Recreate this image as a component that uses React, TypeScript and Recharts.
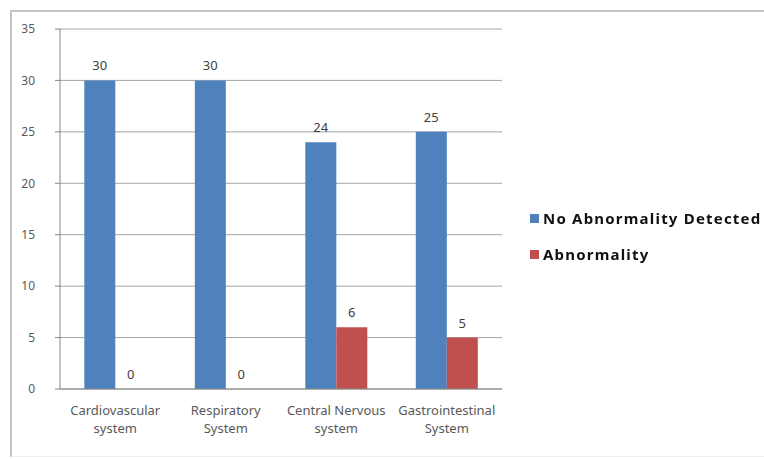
import React from "react";
import {
  Bar,
  BarChart,
  CartesianGrid,
  LabelList,
  Legend,
  XAxis,
  YAxis,
} from "recharts";

const systems = [
  "Cardiovascular system",
  "Respiratory System",
  "Central Nervous system",
  "Gastrointestinal System",
];
const noAbnormality = [30, 30, 24, 25];
const abnormality = [0, 0, 6, 5];
const yTicks = [0, 5, 10, 15, 20, 25, 30, 35];

const BLUE = "#4F81BD";
const RED = "#C0504D";
const FONT = "'Noto Sans', sans-serif";

const data = systems.map((name, i) => ({
  name,
  normal: noAbnormality[i],
  abnormal: abnormality[i],
}));

// split "Central Nervous system" into two lines the way Excel wraps it
const SystemTick = ({ x, y, payload }: any) => {
  const words = String(payload.value).split(" ");
  const last = words.pop();
  const lines = [words.join(" "), last];
  return (
    <text x={x} y={y + 18} textAnchor="middle" fill="#595959" fontSize={13} fontFamily={FONT}>
      {lines.map((l, i) => (
        <tspan key={i} x={x} dy={i === 0 ? 0 : 18}>
          {l}
        </tspan>
      ))}
    </text>
  );
};

const valueText = (cx: number, y: number, value: any, key?: string) => (
  <text key={key} x={cx} y={y - 10} textAnchor="middle" fill="#404040" fontSize={13} fontFamily={FONT}>
    {value}
  </text>
);

// blue bar label; also writes the "0" for an empty red bar next to it,
// since a zero-height bar gets no label of its own
const NormalLabel = ({ x, y, width, height, value, index }: any) => (
  <g>
    {valueText(x + width / 2, y, value)}
    {data[index].abnormal === 0 && valueText(x + width * 1.5, y + height, 0)}
  </g>
);

const AbnormalLabel = ({ x, y, width, value }: any) =>
  value ? valueText(x + width / 2, y, value) : null;

const LegendBox = () => (
  <div style={{ fontFamily: FONT, fontWeight: 700, fontSize: 15, letterSpacing: 1.2, color: "#111" }}>
    {[
      { label: "No Abnormality Detected", color: BLUE },
      { label: "Abnormality", color: RED },
    ].map((it) => (
      <div key={it.label} style={{ display: "flex", alignItems: "center", height: 36 }}>
        <span
          style={{ width: 9, height: 9, background: it.color, marginRight: 4, display: "inline-block" }}
        />
        {it.label}
      </div>
    ))}
  </div>
);

export default function App() {
  return (
    <div style={{ position: "fixed", left: 0, top: 0, width: 764, height: 459, background: "#fff" }}>
      <div
        style={{
          position: "absolute",
          left: 10,
          top: 10,
          width: 760,
          height: 444,
          borderLeft: "2px solid #c4c4c4",
          borderTop: "2px solid #c4c4c4",
          borderBottom: "1px solid #eeeeee",
        }}
      />
      <div style={{ position: "absolute", left: 0, top: 0 }}>
        <BarChart
          width={764}
          height={459}
          data={data}
          margin={{ top: 29, right: 27, bottom: 40, left: 20 }}
          barGap={0}
          barCategoryGap="22%"
        >
          <CartesianGrid vertical={false} stroke="#a6a6a6" />
          <XAxis
            dataKey="name"
            tick={<SystemTick />}
            tickLine={false}
            axisLine={{ stroke: "#868686" }}
            interval={0}
          />
          <YAxis
            width={40}
            domain={[0, 35]}
            ticks={yTicks}
            tick={{ fill: "#595959", fontSize: 12, fontFamily: FONT }}
            tickLine={{ stroke: "#868686" }}
            tickSize={5}
            tickMargin={20}
            axisLine={{ stroke: "#868686" }}
          />
          <Legend
            layout="vertical"
            align="right"
            verticalAlign="middle"
            content={<LegendBox />}
            wrapperStyle={{ width: 235, left: 530, top: 200 }}
          />
          <Bar dataKey="normal" name="No Abnormality Detected" fill={BLUE} isAnimationActive={false}>
            <LabelList dataKey="normal" content={<NormalLabel />} />
          </Bar>
          <Bar dataKey="abnormal" name="Abnormality" fill={RED} isAnimationActive={false}>
            <LabelList dataKey="abnormal" content={<AbnormalLabel />} />
          </Bar>
        </BarChart>
      </div>
    </div>
  );
}
